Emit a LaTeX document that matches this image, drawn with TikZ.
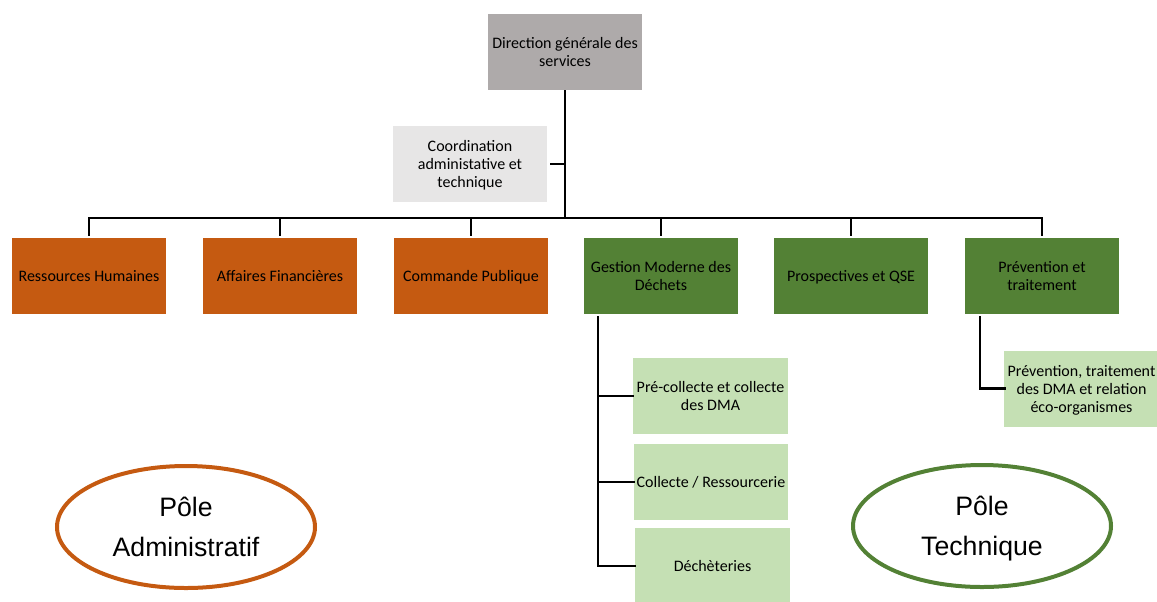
\documentclass[tikz,border=0pt]{standalone}
\usepackage{fontspec}
\usepackage{tikz}
\setmainfont{Carlito}
\newfontfamily\polefont{Liberation Sans}
\usetikzlibrary{positioning}
\usetikzlibrary{shapes.geometric}
\definecolor{dirgray}{HTML}{AEAAAA}
\definecolor{coordgray}{HTML}{E7E6E6}
\definecolor{admorange}{HTML}{C55A11}
\definecolor{techgreen}{HTML}{538135}
\definecolor{subgreen}{HTML}{C5E0B4}
\tikzset{box/.style = {rectangle, inner sep = 0, align = center, text depth = 0pt,
                       minimum width = 116pt, minimum height = 57pt,
                       font = \fontsize{12pt}{13.5pt}\selectfont}}
\tikzset{adm/.style = {box, fill = admorange}}
\tikzset{tec/.style = {box, fill = techgreen}}
\tikzset{sub/.style = {box, fill = subgreen}}
\tikzset{pole/.style = {ellipse, line width = 3pt, inner sep = 0, align = center,
                        text depth = 0pt,
                        minimum width = 193.5pt, minimum height = 91.5pt,
                        font = \polefont\fontsize{20pt}{30pt}\selectfont}}
\tikzset{link/.style = {line width = 2pt}}

\begin{document}
\begin{tikzpicture}[x = 0.75pt, y = -0.75pt]
      \useasboundingbox (0, 0) rectangle (1157, 601);

      \node [box, fill = dirgray] (dgs) at (565, 52) {Direction générale des\\services};
      \node [box, fill = coordgray] (coord) at (470, 164) {Coordination\\administative et\\technique};

      \node [adm] (rh) at (89, 276) {Ressources Humaines};
      \node [adm] (af) at (280, 276) {Affaires Financières};
      \node [adm] (cp) at (471, 276) {Commande Publique};
      \node [tec] (gmd) at (661, 276) {Gestion Moderne des\\Déchets};
      \node [tec] (pqse) at (851, 276) {Prospectives et QSE};
      \node [tec] (pt) at (1042, 276) {Prévention et\\traitement};

      \node [sub] (precol) at (710.5, 396) {Pré-collecte et collecte\\des DMA};
      \node [sub] (ressour) at (711, 482) {Collecte / Ressourcerie};
      \node [sub] (dech) at (712.5, 566) {Déchèteries};
      \node [sub] (prevdma) at (1081.5, 388.5) {Prévention, traitement\\des DMA et relation\\éco-organismes};

      \node [pole, draw = admorange] (adm) at (186, 527) {Pôle\\Administratif};
      \node [pole, draw = techgreen] (tech) at (982, 526) {Pôle\\Technique};

      \coordinate (bar) at (565, 218);
      \coordinate (gtrunk) at (598, 316);
      \coordinate (ptrunk) at (980, 316);

      \draw [link] (dgs.south) -- (bar);
      \draw [link] ([xshift = 2pt] coord.east) -- (coord.east -| bar);
      \draw [link] ([yshift = 1.5pt] rh.north) -- (rh.north |- bar) -- (pt.north |- bar) -- ([yshift = 1.5pt] pt.north);
      \foreach \n in {af, cp, gmd, pqse}
        \draw [link] (\n.north |- bar) -- ([yshift = 1.5pt] \n.north);

      \draw [link] (gtrunk) |- ([xshift = 1pt] dech.west);
      \foreach \n in {precol, ressour}
        \draw [link] (gtrunk |- \n.west) -- ([xshift = 1pt] \n.west);
      \draw [link] (ptrunk) |- ([xshift = 1.5pt] prevdma.west);
    \end{tikzpicture}
\end{document}
